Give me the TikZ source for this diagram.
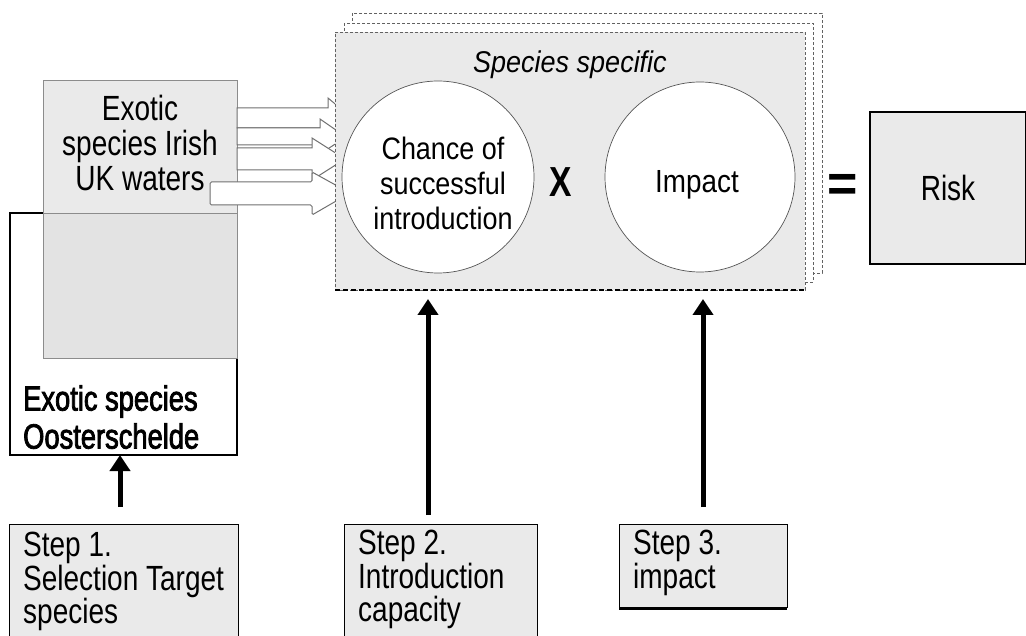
\documentclass[tikz,border=0pt]{standalone}
\usepackage{fontspec}
\setmainfont{Liberation Sans}[FakeStretch=0.8]
\newfontfamily\circfont{Liberation Sans}[FakeStretch=0.87]
\newfontfamily\oschfont{Liberation Sans}[FakeStretch=0.78,FakeBold=2.2]
\newfontfamily\symfont{Liberation Sans}
\newfontfamily\itfont{Liberation Sans}[FakeStretch=0.9]
\usetikzlibrary{arrows.meta}
\definecolor{boxgray}{HTML}{EAEAEA}
\definecolor{lowgray}{HTML}{E3E3E3}
\definecolor{edgegray}{HTML}{8C8C8C}
\definecolor{arrowedge}{HTML}{707070}
\definecolor{circedge}{HTML}{555555}
\begin{document}
\begin{tikzpicture}[x=1pt,y=-1pt,
  plainbox/.style={anchor=north west, inner sep=0pt, outer sep=0pt},
  stepbox/.style={plainbox, draw=black, line width=1pt, fill=boxgray, minimum height=140pt},
  steptext/.style={anchor=north west, inner sep=0pt, align=left, font=\fontsize{35}{33.5}\selectfont},
  blockarrow/.style={fill=white, draw=arrowedge, line width=1pt, line join=miter},
  specdash/.style={draw=edgegray!70!black, line width=0.7pt, dash pattern=on 3pt off 2pt},
  circ/.style={circle, draw=circedge, line width=0.7pt, fill=white, inner sep=0pt},
  steparrow/.style={line width=5pt, -{Triangle[width=20pt,length=16pt]}}
]
\useasboundingbox (0,0) rectangle (1026,636);

% Oosterschelde box
\node[plainbox, draw=black, line width=2pt, fill=white, minimum width=227pt, minimum height=242pt] (osch) at (10,213) {};
\node[anchor=north west, inner sep=0pt, align=left, font=\oschfont\fontsize{35}{38}\selectfont] (oscht) at (23,385) {Exotic species\\Oosterschelde};

% Irish / UK box
\node[plainbox, fill=boxgray, minimum width=194pt, minimum height=278pt] (irish) at (43,80) {};
\fill[lowgray] (irish.west |- osch.north) rectangle (irish.south east);
\draw[edgegray, line width=0.8pt] (irish.north west) rectangle (irish.south east);
\draw[edgegray, line width=0.6pt] (irish.west |- osch.north) -- (irish.east |- osch.north);
\node[anchor=north, inner sep=0pt, align=center, font=\fontsize{35}{35}\selectfont] (irisht) at (140,95) {Exotic\\species Irish\\UK waters};

% block arrows
\draw[blockarrow] (237,108) -- (328,108) -- (328,98) -- (352,118) -- (328,138) -- (328,128) -- (237,128) -- cycle;
\draw[blockarrow] (237,128) -- (320,128) -- (320,119) -- (346,137) -- (320,154) -- (320,145) -- (237,145) -- cycle;
\draw[blockarrow] (237,148) -- (312,148) -- (312,138) -- (345,159) -- (312,180) -- (312,170) -- (237,170) -- cycle;
\draw[blockarrow, rounded corners=1.5pt] (210,182) -- (312,182) -- (312,172) -- (350,193) -- (312,215) -- (312,205) -- (210,205) -- cycle;

% species-specific stack
\draw[specdash, fill=white] (352,13) rectangle (822,273);
\draw[specdash, fill=white] (344,23) rectangle (813,282);
\node[plainbox, specdash, fill=boxgray, minimum width=470pt, minimum height=258pt] (spec) at (335,32) {};
\draw[line width=2pt, dash pattern=on 5pt off 3pt] (spec.south west) -- (spec.south east);
\node[anchor=base, inner sep=0pt, font=\itfont\itshape\fontsize{30}{30}\selectfont] (sst) at (570,73) {Species specific};

\node[circ, minimum size=192pt] (chance) at (438,177) {};
\node[anchor=north, inner sep=0pt, align=center, font=\circfont\fontsize{31}{35}\selectfont] (chancet) at (443,137) {Chance of\\successful\\introduction};
\node[circ, minimum size=190pt] (impact) at (700,177) {};
\node[inner sep=0pt, anchor=base, font=\circfont\fontsize{32}{32}\selectfont] (impactt) at (697,193) {Impact};
\node[inner sep=0pt, font=\bfseries\fontsize{42}{42}\selectfont] (times) at (561,182) {X};
\node[inner sep=0pt, font=\symfont\bfseries\fontsize{52}{52}\selectfont] (eq) at (843,188) {=};

% Risk
\node[plainbox, draw=black, line width=1.5pt, fill=boxgray, minimum width=156pt, minimum height=152pt, text depth=0pt, font=\fontsize{35}{35}\selectfont] (risk) at (870,112) {Risk};

% Step boxes
\node[stepbox, minimum width=229pt] (s1) at (9,524) {};
\node[steptext] (s1t) at (23,532) {Step 1.\\Selection Target\\species};
\node[stepbox, minimum width=193pt] (s2) at (344,524) {};
\node[steptext] (s2t) at (358,530) {Step 2.\\Introduction\\capacity};
\node[stepbox, minimum width=168pt, minimum height=83pt] (s3) at (619,524) {};
\draw[line width=3pt] ([yshift=-1pt]s3.south west) -- ([yshift=-1pt]s3.south east);
\node[steptext] (s3t) at (633,530) {Step 3.\\impact};

% Step arrows
\coordinate (a1) at ([xshift=-3.5pt,yshift=17pt]s1.north);
\coordinate (a2) at ([xshift=-12.5pt,yshift=9pt]s2.north);
\coordinate (a3) at ([yshift=17pt]s3.north);
\coordinate (t2) at ([yshift=-9pt]spec.south);
\draw[steparrow] (a1) -- (a1 |- osch.south);
\draw[steparrow] (a2) -- (a2 |- t2);
\draw[steparrow] (a3) -- (a3 |- t2);
\end{tikzpicture}
\end{document}
